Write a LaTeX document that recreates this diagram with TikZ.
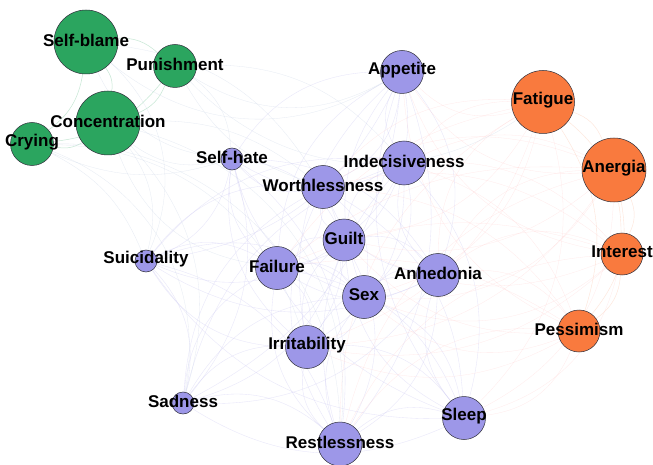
\documentclass[tikz,border=0pt]{standalone}
\usepackage{fontspec}
\setmainfont{Liberation Sans}
\usepackage{tikz}
\usetikzlibrary{backgrounds}
\definecolor{NetGreen}{HTML}{2BA55F}
\definecolor{NetPurple}{HTML}{9D97E8}
\definecolor{NetOrange}{HTML}{F97A3E}
\definecolor{NetInk}{HTML}{2E2E3A}

\begin{document}
\begin{tikzpicture}[x=1pt, y=-1pt,
  symnode/.style={circle, draw=NetInk, line width=0.5pt, inner sep=0pt},
  greennode/.style={symnode, fill=NetGreen},
  purpnode/.style={symnode, fill=NetPurple},
  orngnode/.style={symnode, fill=NetOrange},
  symlabel/.style={font=\fontsize{17}{19}\selectfont\bfseries, text=black, inner sep=0pt, yshift=2pt},
  purpedge/.style={draw=NetPurple!45, line width=0.35pt, opacity=0.55},
  greenedge/.style={draw=NetGreen!45, line width=0.5pt, opacity=0.6},
  orngedge/.style={draw=NetOrange!40, line width=0.4pt, opacity=0.5},
  mixedge/.style={draw=red!20, line width=0.3pt, opacity=0.4},
  grayedge/.style={draw=NetGreen!25!NetPurple!40, line width=0.3pt, opacity=0.5}
]
\useasboundingbox (0,0) rectangle (653,465);

% green cluster
\node[greennode, minimum size=64] (sb) at (86,42) {};
\node[greennode, minimum size=43] (pu) at (175,66) {};
\node[greennode, minimum size=64] (co) at (108,123) {};
\node[greennode, minimum size=43] (cr) at (32,144) {};
% purple cluster
\node[purpnode, minimum size=22] (sh) at (232,159) {};
\node[purpnode, minimum size=43] (wo) at (323,187) {};
\node[purpnode, minimum size=43] (ap) at (402,72) {};
\node[purpnode, minimum size=44] (in) at (404,163) {};
\node[purpnode, minimum size=42] (gu) at (344,240) {};
\node[purpnode, minimum size=43] (fa) at (277,268) {};
\node[purpnode, minimum size=43] (an) at (438,275) {};
\node[purpnode, minimum size=43] (sx) at (364,297) {};
\node[purpnode, minimum size=22] (su) at (146,261) {};
\node[purpnode, minimum size=43] (ir) at (307,347) {};
\node[purpnode, minimum size=22] (sa) at (183,403) {};
\node[purpnode, minimum size=43] (sl) at (464,418) {};
\node[purpnode, minimum size=44] (re) at (340,444) {};
% orange cluster
\node[orngnode, minimum size=63] (ft) at (543,102) {};
\node[orngnode, minimum size=64] (ag) at (614,170) {};
\node[orngnode, minimum size=42] (it) at (622,254) {};
\node[orngnode, minimum size=42] (pe) at (579,331) {};

% labels
\node[symlabel] (sbl) at (sb) {Self-blame};
\node[symlabel] (pul) at (pu) {Punishment};
\node[symlabel] (col) at (co) {Concentration};
\node[symlabel] (crl) at (cr) {Crying};
\node[symlabel] (shl) at (sh) {Self-hate};
\node[symlabel] (wol) at (wo) {Worthlessness};
\node[symlabel] (apl) at (ap) {Appetite};
\node[symlabel] (inl) at (in) {Indecisiveness};
\node[symlabel] (gul) at (gu) {Guilt};
\node[symlabel] (fal) at (fa) {Failure};
\node[symlabel] (anl) at (an) {Anhedonia};
\node[symlabel] (sxl) at (sx) {Sex};
\node[symlabel] (sul) at (su) {Suicidality};
\node[symlabel] (irl) at (ir) {Irritability};
\node[symlabel] (sal) at (sa) {Sadness};
\node[symlabel] (sll) at (sl) {Sleep};
\node[symlabel] (rel) at (re) {Restlessness};
\node[symlabel] (ftl) at (ft) {Fatigue};
\node[symlabel] (agl) at (ag) {Anergia};
\node[symlabel] (itl) at (it) {Interest};
\node[symlabel] (pel) at (pe) {Pessimism};

\begin{pgfonlayer}{background}
\fill[white] (0,0) rectangle (653,465);
% edges inside each cluster
\foreach \a [count=\i] in {sh,wo,ap,in,gu,fa,an,sx,su,ir,sa,sl,re} {
  \foreach \b [count=\j] in {sh,wo,ap,in,gu,fa,an,sx,su,ir,sa,sl,re} {
    \ifnum\j>\i
      \pgfmathtruncatemacro\bnd{mod(\i+\j,2)==0 ? 28 : -28}
      \draw[purpedge] (\a) to[bend left=\bnd] (\b);
    \fi
  }
}
\foreach \a [count=\i] in {sb,pu,co,cr} {
  \foreach \b [count=\j] in {sb,pu,co,cr} {
    \ifnum\j>\i \draw[greenedge] (\a) to[bend left=22] (\b); \fi
  }
}
\foreach \a [count=\i] in {ft,ag,it,pe} {
  \foreach \b [count=\j] in {ft,ag,it,pe} {
    \ifnum\j>\i \draw[orngedge] (\a) to[bend left=25] (\b); \fi
  }
}
% edges between clusters
\foreach \a in {ft,ag,it,pe} {
  \foreach \b/\bnd in {ap/30,in/-25,gu/25,an/-30,sx/30,wo/-25,sl/30,re/-30,ir/25,fa/-20} {
    \draw[mixedge] (\a) to[bend left=\bnd] (\b);
  }
}
\foreach \a/\b/\bnd in {cr/sa/40,cr/re/45,cr/su/20,cr/sh/-20,co/sh/-25,co/wo/20,co/su/25,
  co/fa/-30,co/sa/30,pu/sh/25,pu/ap/-30,pu/wo/-20,pu/in/25,sb/sh/-30,sb/su/35,sb/wo/25,
  sb/ap/-35,pu/ft/-40,co/re/40,cr/ir/35} {
  \draw[grayedge] (\a) to[bend left=\bnd] (\b);
}
\end{pgfonlayer}
\end{tikzpicture}
\end{document}
